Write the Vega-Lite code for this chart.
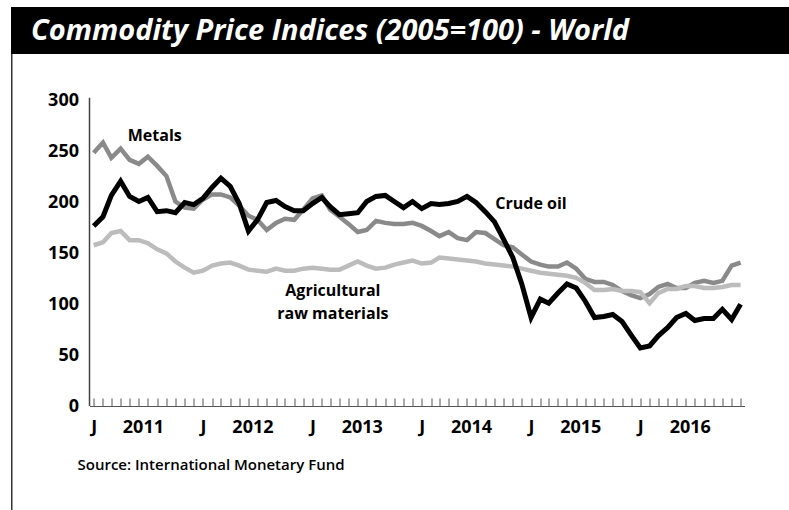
{
  "$schema": "https://vega.github.io/schema/vega-lite/v6.json",
  "padding": {"left": 11, "top": 7, "right": 0, "bottom": 0},
  "background": "white",
  "config": {"view": {"stroke": null}, "font": "Open Sans"},
  "bounds": "flush",
  "spacing": 0,
  "vconcat": [
    {
      "width": 778,
      "height": 47,
      "view": {"fill": "black", "stroke": null},
      "data": {"values": [{"t": "Commodity Price Indices (2005=100) - World"}]},
      "mark": {"type": "text", "align": "left", "baseline": "middle", "color": "white", "font": "Open Sans", "fontSize": 29, "fontStyle": "italic", "fontWeight": "bold", "x": 20, "y": 24},
      "encoding": {"text": {"field": "t"}}
    },
    {
      "bounds": "flush",
      "spacing": 76.5,
      "hconcat": [
        {
          "width": 1.5,
          "height": 456,
          "view": {"fill": "#333333", "stroke": null},
          "data": {"values": [{}]},
          "mark": {"type": "text", "text": ""},
          "encoding": {}
        },
        {
          "width": 655,
          "height": 352,
          "title": {"text": "Source: International Monetary Fund", "orient": "bottom", "anchor": "start", "frame": "group", "dx": -12, "offset": 22, "font": "Open Sans", "fontSize": 15, "fontWeight": 600, "color": "black"},
          "data": {"values": [
            {"d": "2011-01-01", "oil": 177, "met": 249, "agr": 158},
            {"d": "2011-02-01", "oil": 186, "met": 259, "agr": 161},
            {"d": "2011-03-01", "oil": 207, "met": 244, "agr": 170},
            {"d": "2011-04-01", "oil": 221, "met": 253, "agr": 172},
            {"d": "2011-05-01", "oil": 206, "met": 242, "agr": 163},
            {"d": "2011-06-01", "oil": 201, "met": 238, "agr": 163},
            {"d": "2011-07-01", "oil": 205, "met": 245, "agr": 160},
            {"d": "2011-08-01", "oil": 191, "met": 236, "agr": 154},
            {"d": "2011-09-01", "oil": 192, "met": 226, "agr": 150},
            {"d": "2011-10-01", "oil": 190, "met": 201, "agr": 142},
            {"d": "2011-11-01", "oil": 200, "met": 195, "agr": 136},
            {"d": "2011-12-01", "oil": 198, "met": 194, "agr": 131},
            {"d": "2012-01-01", "oil": 204, "met": 203, "agr": 133},
            {"d": "2012-02-01", "oil": 215, "met": 208, "agr": 138},
            {"d": "2012-03-01", "oil": 224, "met": 208, "agr": 140},
            {"d": "2012-04-01", "oil": 216, "met": 205, "agr": 141},
            {"d": "2012-05-01", "oil": 199, "met": 197, "agr": 138},
            {"d": "2012-06-01", "oil": 172, "met": 187, "agr": 134},
            {"d": "2012-07-01", "oil": 183, "met": 183, "agr": 133},
            {"d": "2012-08-01", "oil": 200, "met": 173, "agr": 132},
            {"d": "2012-09-01", "oil": 202, "met": 180, "agr": 135},
            {"d": "2012-10-01", "oil": 196, "met": 184, "agr": 133},
            {"d": "2012-11-01", "oil": 192, "met": 183, "agr": 133},
            {"d": "2012-12-01", "oil": 192, "met": 193, "agr": 135},
            {"d": "2013-01-01", "oil": 199, "met": 204, "agr": 136},
            {"d": "2013-02-01", "oil": 205, "met": 207, "agr": 135},
            {"d": "2013-03-01", "oil": 196, "met": 193, "agr": 134},
            {"d": "2013-04-01", "oil": 188, "met": 186, "agr": 134},
            {"d": "2013-05-01", "oil": 189, "met": 179, "agr": 138},
            {"d": "2013-06-01", "oil": 190, "met": 171, "agr": 142},
            {"d": "2013-07-01", "oil": 201, "met": 173, "agr": 138},
            {"d": "2013-08-01", "oil": 206, "met": 182, "agr": 135},
            {"d": "2013-09-01", "oil": 207, "met": 180, "agr": 136},
            {"d": "2013-10-01", "oil": 201, "met": 179, "agr": 139},
            {"d": "2013-11-01", "oil": 195, "met": 179, "agr": 141},
            {"d": "2013-12-01", "oil": 201, "met": 180, "agr": 143},
            {"d": "2014-01-01", "oil": 194, "met": 177, "agr": 140},
            {"d": "2014-02-01", "oil": 199, "met": 172, "agr": 141},
            {"d": "2014-03-01", "oil": 198, "met": 167, "agr": 146},
            {"d": "2014-04-01", "oil": 199, "met": 171, "agr": 145},
            {"d": "2014-05-01", "oil": 201, "met": 165, "agr": 144},
            {"d": "2014-06-01", "oil": 206, "met": 163, "agr": 143},
            {"d": "2014-07-01", "oil": 200, "met": 171, "agr": 142},
            {"d": "2014-08-01", "oil": 191, "met": 170, "agr": 140},
            {"d": "2014-09-01", "oil": 181, "met": 164, "agr": 139},
            {"d": "2014-10-01", "oil": 164, "met": 158, "agr": 138},
            {"d": "2014-11-01", "oil": 146, "met": 156, "agr": 137},
            {"d": "2014-12-01", "oil": 120, "met": 149, "agr": 135},
            {"d": "2015-01-01", "oil": 87, "met": 142, "agr": 133},
            {"d": "2015-02-01", "oil": 105, "met": 139, "agr": 131},
            {"d": "2015-03-01", "oil": 101, "met": 137, "agr": 130},
            {"d": "2015-04-01", "oil": 111, "met": 137, "agr": 129},
            {"d": "2015-05-01", "oil": 120, "met": 141, "agr": 128},
            {"d": "2015-06-01", "oil": 116, "met": 135, "agr": 126},
            {"d": "2015-07-01", "oil": 103, "met": 125, "agr": 121},
            {"d": "2015-08-01", "oil": 87, "met": 122, "agr": 114},
            {"d": "2015-09-01", "oil": 88, "met": 122, "agr": 114},
            {"d": "2015-10-01", "oil": 90, "met": 119, "agr": 115},
            {"d": "2015-11-01", "oil": 83, "met": 113, "agr": 113},
            {"d": "2015-12-01", "oil": 70, "met": 109, "agr": 113},
            {"d": "2016-01-01", "oil": 57, "met": 106, "agr": 112},
            {"d": "2016-02-01", "oil": 59, "met": 110, "agr": 101},
            {"d": "2016-03-01", "oil": 69, "met": 117, "agr": 111},
            {"d": "2016-04-01", "oil": 77, "met": 120, "agr": 115},
            {"d": "2016-05-01", "oil": 87, "met": 116, "agr": 115},
            {"d": "2016-06-01", "oil": 91, "met": 116, "agr": 118},
            {"d": "2016-07-01", "oil": 84, "met": 121, "agr": 118},
            {"d": "2016-08-01", "oil": 86, "met": 123, "agr": 116},
            {"d": "2016-09-01", "oil": 86, "met": 121, "agr": 116},
            {"d": "2016-10-01", "oil": 95, "met": 123, "agr": 117},
            {"d": "2016-11-01", "oil": 85, "met": 138, "agr": 119},
            {"d": "2016-12-01", "oil": 100, "met": 141, "agr": 119}
          ]},
          "encoding": {
            "x": {
              "field": "d",
              "type": "temporal",
              "scale": {"type": "utc", "domain": [{"year": 2010, "month": 12, "date": 18, "utc": true}, {"year": 2016, "month": 12, "date": 14, "utc": true}]},
              "axis": {
                "title": null,
                "grid": false,
                "domain": true,
                "domainColor": "#555555",
                "domainWidth": 1.2,
                "ticks": true,
                "tickCount": {"interval": "month", "step": 1},
                "tickSize": -8,
                "tickColor": "#555555",
                "tickWidth": 1,
                "labelExpr": "utcmonth(datum.value) == 0 ? 'J' : (utcmonth(datum.value) == 6 ? utcFormat(datum.value, '%Y') : '')",
                "labelOffset": {"condition": {"test": "utcmonth(datum.value) == 6", "value": -5}, "value": 0},
                "labelFont": "Open Sans",
                "labelFontSize": 18,
                "labelFontWeight": "bold",
                "labelColor": "black",
                "labelPadding": 20,
                "labelOverlap": false,
                "labelFlush": false,
                "labelBound": false
              }
            }
          },
          "layer": [
            {
              "data": {"values": [{"d": "2010-12-18", "lo": 0, "hi": 303}]},
              "mark": {"type": "rule", "color": "#444444", "strokeWidth": 1.5},
              "encoding": {
                "x": {"field": "d", "type": "temporal"},
                "y": {"field": "lo", "type": "quantitative"},
                "y2": {"field": "hi"}
              }
            },
            {
              "mark": {"type": "line", "color": "#8a8a8a", "strokeWidth": 4.5},
              "encoding": {
                "y": {
                  "field": "met",
                  "type": "quantitative",
                  "scale": {"domain": [0, 346], "nice": false},
                  "axis": {
                    "title": null,
                    "domain": false,
                    "ticks": false,
                    "grid": false,
                    "values": [0, 50, 100, 150, 200, 250, 300],
                    "labelFont": "Open Sans",
                    "labelFontSize": 18,
                    "labelFontWeight": "bold",
                    "labelColor": "black",
                    "labelPadding": 11
                  }
                }
              }
            },
            {
              "mark": {"type": "line", "color": "#bcbcbc", "strokeWidth": 4.5},
              "encoding": {"y": {"field": "agr", "type": "quantitative"}}
            },
            {
              "mark": {"type": "line", "color": "black", "strokeWidth": 5},
              "encoding": {"y": {"field": "oil", "type": "quantitative"}}
            },
            {
              "data": {"values": [
                {"d": "2011-07-24", "v": 265, "label": "Metals"},
                {"d": "2015-01-01", "v": 199, "label": "Crude oil"},
                {"d": "2013-03-10", "v": 112.8, "label": "Agricultural"},
                {"d": "2013-03-10", "v": 90.9, "label": "raw materials"}
              ]},
              "mark": {"type": "text", "align": "center", "baseline": "middle", "font": "Open Sans", "fontSize": 16, "fontWeight": "bold", "color": "black"},
              "encoding": {
                "x": {"field": "d", "type": "temporal"},
                "y": {"field": "v", "type": "quantitative"},
                "text": {"field": "label"}
              }
            }
          ]
        }
      ]
    }
  ]
}
